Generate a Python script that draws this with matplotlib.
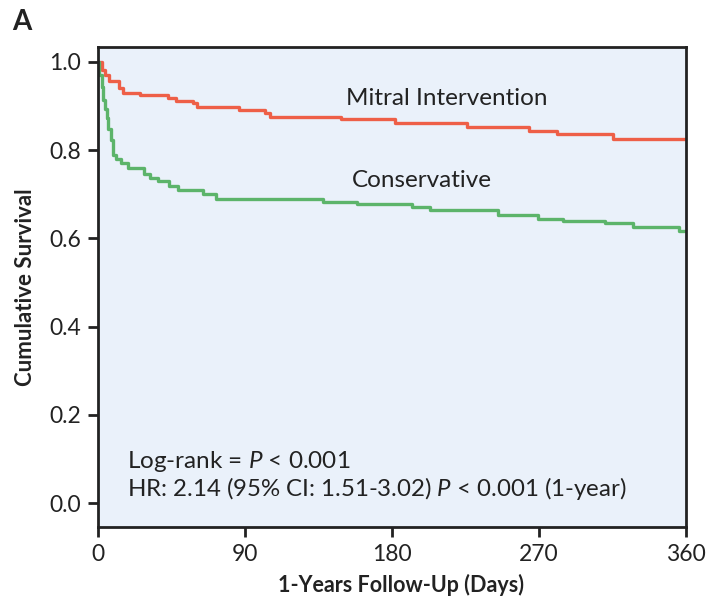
import matplotlib
matplotlib.use("Agg")
import matplotlib.pyplot as plt

FONT = "Lato"
plt.rcParams['font.family'] = [FONT, 'DejaVu Sans']
plt.rcParams['mathtext.fontset'] = 'custom'
plt.rcParams['mathtext.rm'] = FONT
plt.rcParams['mathtext.it'] = FONT + ':italic'

# Kaplan-Meier step data (days, survival)
mitral_days = [0, 2.6, 4.5, 6.5, 13, 15.5, 25.7, 42.7, 47.8, 58.4, 60.4, 86.5, 102.3, 105.3,
               148.6, 181.9, 226.1, 264.1, 280.9, 315.6, 360]
mitral_surv = [1.0, 0.982, 0.970, 0.958, 0.942, 0.930, 0.925, 0.919, 0.912, 0.906, 0.897, 0.891,
               0.885, 0.876, 0.870, 0.861, 0.852, 0.843, 0.836, 0.825, 0.825]

cons_days = [0, 0.5, 2.2, 3.3, 4.3, 5.3, 6.3, 7.8, 9.4, 11, 13.9, 18.6, 28.4, 31.8, 36.9, 43.7,
             49.2, 64.5, 72.3, 137.6, 158.4, 192, 203.3, 245.1, 269.6, 284.9, 310.4, 327.8, 356, 360]
cons_surv = [1.0, 0.970, 0.944, 0.914, 0.894, 0.874, 0.849, 0.823, 0.789, 0.781, 0.771, 0.760,
             0.747, 0.736, 0.730, 0.719, 0.709, 0.700, 0.689, 0.683, 0.679, 0.671, 0.664, 0.653,
             0.645, 0.640, 0.634, 0.625, 0.616, 0.616]

x_ticks = [0, 90, 180, 270, 360]
y_ticks = [0.0, 0.2, 0.4, 0.6, 0.8, 1.0]

RED = "#EE5F47"
GREEN = "#5CB46A"
INK = "#222222"

fig = plt.figure(figsize=(7.15, 6.02), dpi=100)
ax = fig.add_axes([98/715, 1-527/602, (686-98)/715, (527-47)/602])
ax.set_facecolor("#EAF1FA")

ax.step(mitral_days, mitral_surv, where='post', color=RED, lw=2.4)
ax.step(cons_days, cons_surv, where='post', color=GREEN, lw=2.4)

ax.set_xlim(0, 360)
ax.set_ylim(-0.0544, 1.034)
ax.set_xticks(x_ticks)
ax.set_xticklabels([str(t) for t in x_ticks])
ax.set_yticks(y_ticks)
ax.set_yticklabels([f"{t:.1f}" for t in y_ticks])
ax.tick_params(direction='out', length=7, width=2, labelsize=16.5, colors=INK, pad=5)
for s in ax.spines.values():
    s.set_linewidth(2)
    s.set_color(INK)

ax.set_xlabel("1-Years Follow-Up (Days)", fontsize=15.5, fontweight='bold', color=INK)
ax.xaxis.set_label_coords(0.515, -0.097)
ax.set_ylabel("Cumulative Survival", fontsize=16, fontweight='bold', labelpad=10, color=INK)

ax.text(213.7, 0.918, "Mitral Intervention", fontsize=17.5, ha='center', va='center', color=INK)
ax.text(198.4, 0.732, "Conservative", fontsize=17.5, ha='center', va='center', color=INK)

ax.text(17.8, 0.095, r"Log-rank = $P$ < 0.001", fontsize=17.5, ha='left', va='center', color=INK)
ax.text(17.8, 0.032, r"HR: 2.14 (95% CI: 1.51-3.02) $P$ < 0.001 (1-year)", fontsize=17.3,
        ha='left', va='center', color=INK)

fig.text(12/715, 1-22/602, "A", fontsize=20, fontweight='bold', ha='left', va='center', color=INK)

fig.savefig("out.png", dpi=100)
